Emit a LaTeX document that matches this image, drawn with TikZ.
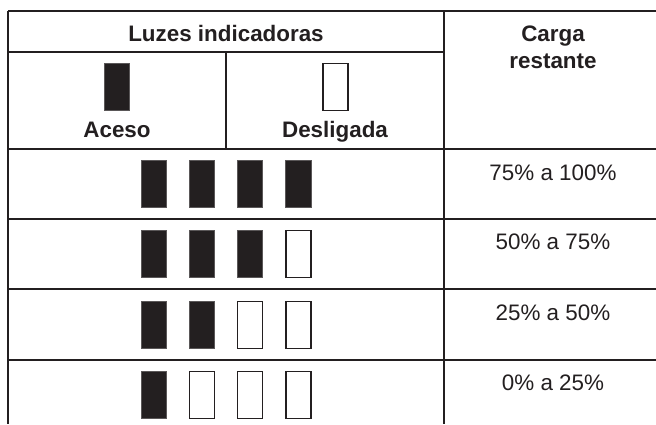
\documentclass[tikz,border=0pt]{standalone}
\usepackage{fontspec}
\setmainfont{Liberation Sans}
\definecolor{ink}{HTML}{231F20}
\begin{document}
\begin{tikzpicture}[x=1pt,y=-1pt,
  grid/.style={draw=ink, line width=1.5pt},
  lampon/.style={rectangle, minimum width=25.5pt, minimum height=47.5pt, inner sep=0pt, draw=ink!75, line width=0.6pt, fill=ink},
  lampoff/.style={rectangle, minimum width=24.8pt, minimum height=47pt, inner sep=0pt, draw=ink, line width=1.3pt, fill=white},
  hdr/.style={font=\fontsize{22.4}{27}\selectfont\bfseries, text=ink, anchor=base, inner sep=0pt},
  val/.style={font=\fontsize{22.4}{27}\selectfont, text=ink, anchor=base, inner sep=0pt}]
\useasboundingbox (0,0) rectangle (656,424);
% table rules
\coordinate (tl) at (8,11);   \coordinate (tr) at (656,11);
\coordinate (bl) at (8,424);
\coordinate (ct) at (444,11); \coordinate (cb) at (444,424);
\coordinate (h1l) at (8,52);  \coordinate (h1r) at (444,52);
\coordinate (vt) at (226,52); \coordinate (vb) at (226,149);
\draw[grid] (tl) -- (tr);
\draw[grid] (tl) -- (bl);
\draw[grid] (ct) -- (cb);
\draw[grid] (h1l) -- (h1r);
\draw[grid] (vt) -- (vb);
\foreach \yy/\nm in {149/a,219/b,289/c,360/d}{
  \coordinate (r\nm l) at (8,\yy);
  \coordinate (r\nm r) at (656,\yy);
  \draw[grid] (r\nm l) -- (r\nm r);
}
% header texts
\node[hdr] (luzes) at (226,41) {Luzes indicadoras};
\node[hdr] (carga) at (553,41) {Carga};
\node[hdr] (restante) at (553,68) {restante};
\node[lampon] (aceson) at (117,87) {};
\node[lampoff] (desloff) at (335.5,87) {};
\node[hdr] (aceso) at (117,137) {Aceso};
\node[hdr] (desl) at (335,137) {Desligada};
% rows
\node[val] (v1) at (553,180) {75\% a 100\%};
\node[val] (v2) at (553,249) {50\% a 75\%};
\node[val] (v3) at (553,320) {25\% a 50\%};
\node[val] (v4) at (553,390) {0\% a 25\%};
\foreach \r/\yy/\n in {1/184/4,2/254/3,3/325/2,4/395/1}{
  \foreach \c/\xx in {1/154,2/202,3/250,4/298.5}{
    \ifnum\c>\n
      \node[lampoff] (l\r\c) at (\xx,\yy) {};
    \else
      \node[lampon] (l\r\c) at (\xx,\yy) {};
    \fi
  }
}
\end{tikzpicture}
\end{document}
